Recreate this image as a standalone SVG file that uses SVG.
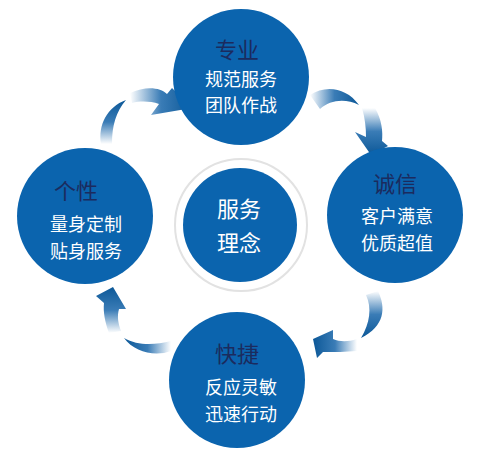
<svg xmlns="http://www.w3.org/2000/svg" width="481" height="460" viewBox="0 0 481 460">
<defs>
<linearGradient id="gUp" x1="0" y1="1" x2="0" y2="0"><stop offset="0" stop-color="#ffffff"/><stop offset="0.5" stop-color="#3a7cb6"/><stop offset="1" stop-color="#0c5898"/></linearGradient>
<linearGradient id="gDown" x1="0" y1="0" x2="0" y2="1"><stop offset="0" stop-color="#ffffff"/><stop offset="0.5" stop-color="#3a7cb6"/><stop offset="1" stop-color="#0c5898"/></linearGradient>
<linearGradient id="gRight" x1="0" y1="0" x2="1" y2="0"><stop offset="0" stop-color="#ffffff"/><stop offset="0.5" stop-color="#3a7cb6"/><stop offset="1" stop-color="#0c5898"/></linearGradient>
<linearGradient id="gLeft" x1="1" y1="0" x2="0" y2="0"><stop offset="0" stop-color="#ffffff"/><stop offset="0.5" stop-color="#3a7cb6"/><stop offset="1" stop-color="#0c5898"/></linearGradient>
</defs>
<style>
.node{fill:#0b64ae}
.title{font-family:"Noto Sans CJK SC","Noto Sans",sans-serif;font-size:22px;fill:#1b2b5e;text-anchor:middle}
.body{font-family:"Noto Sans CJK SC","Noto Sans",sans-serif;font-size:18px;fill:#ffffff;text-anchor:middle}
.ctext{font-family:"Noto Sans CJK SC","Noto Sans",sans-serif;font-size:22px;fill:#ffffff;text-anchor:middle}
</style>
<rect width="481" height="460" fill="#ffffff"/>
<g id="connectors">
<path d="M101,144 C98,125 107,107 126,100 C116,112 112,125 112,144 Z" fill="url(#gUp)"/>
<path d="M130,93 C145,86 160,87 167,94 L172,88 L192,108 L151,115 L159,104 C150,101 140,101 132,103 Z" fill="url(#gRight)"/>
<path d="M310,95 C325,85 346,87 359,105 C345,98 330,100 320,109 Z" fill="url(#gRight)"/>
<path d="M362,108 L375,108 C382,120 383,132 382,141 L388,146 L371,155 L355,132 L366,137 C366,128 365,118 362,108 Z" fill="url(#gDown)"/>
<path d="M366,295 L378,291 C386,308 385,326 361,338 C370,323 372,308 366,295 Z" fill="url(#gDown)"/>
<path d="M357,339 C348,342 340,342 333,339 L333,330 L313,339 L317,358 L323,352 C335,352 345,352 357,351 Z" fill="url(#gLeft)"/>
<path d="M171,341 C155,345 138,346 124,338 C134,352 155,357 171,351 Z" fill="url(#gLeft)"/>
<path d="M109,333 C105,322 103,312 104,303 L96,296 L113,287 L126,309 L119,309 C117,316 118,323 121,331 Z" fill="url(#gUp)"/>
</g>
<g id="node-top">
<circle class="node" cx="241" cy="77" r="68"/>
<text class="title" x="237" y="58">专业</text>
<text class="body" x="241" y="86">规范服务</text>
<text class="body" x="241" y="112">团队作战</text>
</g>
<g id="node-right">
<circle class="node" cx="395" cy="215" r="68"/>
<text class="title" x="395" y="192">诚信</text>
<text class="body" x="397" y="223">客户满意</text>
<text class="body" x="397" y="250">优质超值</text>
</g>
<g id="node-left">
<circle class="node" cx="85" cy="216" r="68"/>
<text class="title" x="76" y="199">个性</text>
<text class="body" x="86" y="231">量身定制</text>
<text class="body" x="86" y="258">贴身服务</text>
</g>
<g id="node-bottom">
<circle class="node" cx="237" cy="380" r="68"/>
<text class="title" x="237" y="362">快捷</text>
<text class="body" x="241" y="394">反应灵敏</text>
<text class="body" x="241" y="421">迅速行动</text>
</g>
<g id="node-center">
<circle cx="241" cy="225" r="66" fill="#ffffff" stroke="#e2e2e2" stroke-width="2"/>
<circle class="node" cx="240" cy="225" r="57"/>
<text class="ctext" x="239" y="217">服务</text>
<text class="ctext" x="239" y="251">理念</text>
</g>
</svg>
